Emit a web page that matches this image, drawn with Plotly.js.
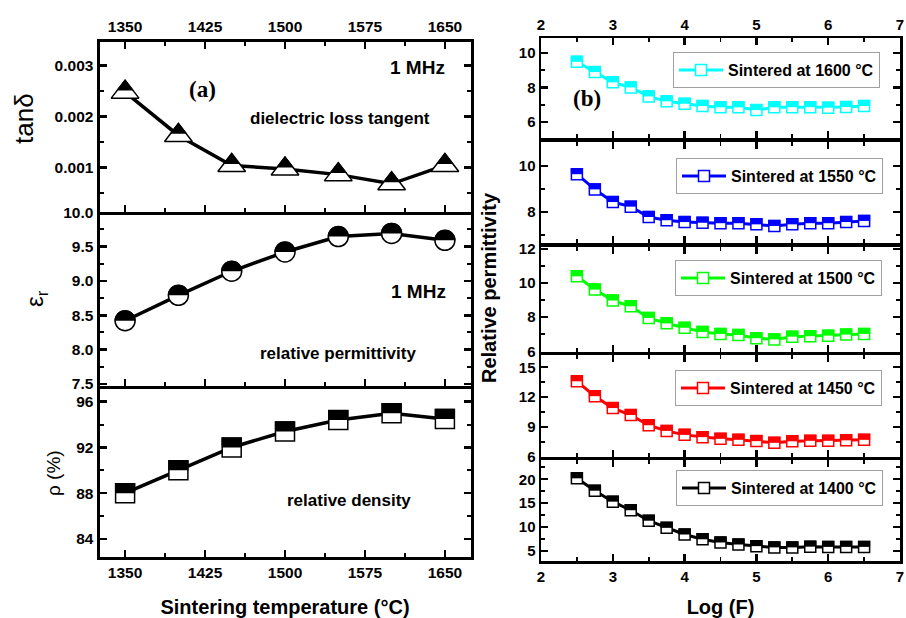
<!DOCTYPE html>
<html><head><meta charset="utf-8">
<script src="https://cdn.plot.ly/plotly-3.0.1.min.js"></script>
<style>html,body{margin:0;padding:0;background:#fff}#chart{width:906px;height:618px}</style>
</head><body><div id="chart"></div>
<script>
// ---------------- data ----------------
const sinterTemp = [1350, 1400, 1450, 1500, 1550, 1600, 1650];
const tanDelta   = [0.00248, 0.00163, 0.00104, 0.00097, 0.00086, 0.00068, 0.00104];
const epsR       = [8.42, 8.79, 9.14, 9.42, 9.645, 9.69, 9.59];
const density    = [88.0, 90.0, 92.0, 93.4, 94.4, 95.0, 94.5];

const logF    = [2.5, 2.75, 3, 3.25, 3.5, 3.75, 4, 4.25, 4.5, 4.75, 5, 5.25, 5.5, 5.75, 6, 6.25, 6.5];
const eps1600 = [9.5, 8.9, 8.3, 8.0, 7.48, 7.19, 7.05, 6.92, 6.84, 6.84, 6.68, 6.84, 6.85, 6.85, 6.82, 6.86, 6.92];
const eps1550 = [9.63, 8.97, 8.42, 8.22, 7.77, 7.63, 7.55, 7.52, 7.5, 7.5, 7.45, 7.38, 7.45, 7.5, 7.5, 7.55, 7.6];
const eps1500 = [10.4, 9.62, 8.98, 8.64, 7.96, 7.64, 7.38, 7.14, 7.02, 6.96, 6.77, 6.7, 6.86, 6.89, 6.92, 6.98, 7.02];
const eps1450 = [13.6, 12.1, 10.9, 10.2, 9.17, 8.6, 8.2, 7.97, 7.8, 7.7, 7.57, 7.4, 7.55, 7.6, 7.6, 7.65, 7.7];
const eps1400 = [20.2, 17.6, 15.3, 13.5, 11.3, 9.8, 8.4, 7.4, 6.73, 6.3, 5.96, 5.7, 5.7, 5.85, 5.8, 5.8, 5.8];

const seriesNames = ['Sintered at 1600 °C', 'Sintered at 1550 °C', 'Sintered at 1500 °C', 'Sintered at 1450 °C', 'Sintered at 1400 °C'];
const tempTickVals = [1350, 1425, 1500, 1575, 1650];
const logTickVals  = [2, 3, 4, 5, 6, 7];

// ---------------- style / layout ----------------
const W = 906, H = 618;
const fx = p => p / W;
const fy = p => 1 - p / H;
const FONT = 'Liberation Sans, Arial, Helvetica, sans-serif';
const tickFont = {family: FONT, size: 15.5, color: '#000', weight: 'bold'};
const tickFontR = {family: FONT, size: 15, color: '#000', weight: 'bold'};
const seriesColors = ['#00ffff', '#0000ff', '#00ff00', '#ff0000', '#000000'];
const seriesValues = [eps1600, eps1550, eps1500, eps1450, eps1400];

function axis(o, minor) {
  return Object.assign({
    showline: true, linecolor: '#000', linewidth: 3, mirror: 'ticks',
    ticks: 'inside', ticklen: 7, tickwidth: 2.5, tickcolor: '#000',
    minor: Object.assign({ticks: 'inside', ticklen: 4, tickwidth: 2, tickcolor: '#000'}, minor),
    showgrid: false, zeroline: false, tickfont: tickFont, fixedrange: true
  }, o);
}

const layout = {
  width: W, height: H, autosize: false,
  margin: {l: 0, r: 0, t: 0, b: 0, pad: 0},
  paper_bgcolor: '#fff', plot_bgcolor: '#fff',
  font: {family: FONT, color: '#000'},
  showlegend: true,
  annotations: [], shapes: []
};

// Left panels (shared frame lines: the upper panel's x axis draws each boundary)
const LX = [fx(99.5), fx(470.5)];
const leftX = [1326, 1674];
const tempMinor = {tickmode: 'linear', tick0: 1350, dtick: 37.5};
layout.xaxis  = axis({domain: LX, anchor: 'y',  range: leftX, tickmode: 'array', tickvals: tempTickVals, mirror: false,
  title: {text: 'Sintering temperature (°C)', font: {family: FONT, size: 20, weight: 'bold'}, standoff: 20}}, tempMinor);
layout.xaxis2 = axis({domain: LX, anchor: 'y2', range: leftX, tickmode: 'array', tickvals: tempTickVals, showticklabels: false, mirror: false}, tempMinor);
layout.xaxis3 = axis({domain: LX, anchor: 'y3', side: 'top', range: leftX, tickmode: 'array', tickvals: tempTickVals}, tempMinor);
layout.yaxis  = axis({domain: [fy(556.7), fy(385.5)], anchor: 'x',  range: [82.45, 97.42], dtick: 4, tick0: 0}, {dtick: 2, tick0: 0});
layout.yaxis2 = axis({domain: [fy(385.5), fy(212)], anchor: 'x2', range: [7.478, 10.002], dtick: 0.5, tick0: 0, tickformat: '.1f'}, {dtick: 0.25, tick0: 0});
layout.yaxis3 = axis({domain: [fy(212), fy(41.5)], anchor: 'x3', range: [0.000126, 0.003475], dtick: 0.001, tick0: 0, tickformat: '.3f'}, {dtick: 0.0005, tick0: 0});

// Right panels
const RX = [fx(541), fx(900)];
const rightRows = [[38, 138], [142, 243], [247, 352], [355, 457], [460, 561]];
const rightRanges = [[5.05, 10.89], [6.64, 11.03], [5.96, 12.12], [5.97, 16.25], [2.84, 24.05]];
const rightDticks = [2, 2, 2, 3, 5];
rightRows.forEach((row, k) => {
  const n = 4 + k;
  const xo = {domain: RX, anchor: 'y' + n, range: [2, 7], tickmode: 'array', tickvals: logTickVals, linewidth: 2.5, tickwidth: 2.2, tickfont: tickFontR};
  if (k === 0) xo.side = 'top';
  else if (k === 4) xo.title = {text: 'Log (F)', font: {family: FONT, size: 20, weight: 'bold'}, standoff: 19};
  else xo.showticklabels = false;
  layout['xaxis' + n] = axis(xo, {tickmode: 'linear', tick0: 2, dtick: 0.5, tickwidth: 1.8});
  layout['yaxis' + n] = axis({domain: [fy(row[1]), fy(row[0])], anchor: 'x' + n, range: rightRanges[k],
    dtick: rightDticks[k], tick0: 0, linewidth: 2.5, tickwidth: 2.2, tickfont: tickFontR}, {dtick: rightDticks[k] / 2, tick0: 0, tickwidth: 1.8});
});

// legends (one per right panel)
const legendBoxes = [[673, 52], [676, 158], [675, 260], [675, 370], [676, 470]];
legendBoxes.forEach((b, k) => {
  layout[k === 0 ? 'legend' : 'legend' + (k + 1)] = {
    x: fx(b[0]), y: fy(b[1]), xanchor: 'left', yanchor: 'top',
    bgcolor: '#fff', bordercolor: '#a0a0a0', borderwidth: 1,
    font: {family: FONT, size: 16, weight: 'bold', color: '#000'}, itemwidth: 44
  };
});

// ---------------- traces ----------------
const traces = [];
traces.push({x: sinterTemp, y: density, xaxis: 'x', yaxis: 'y', mode: 'lines+markers', showlegend: false,
  line: {color: '#000', width: 3.5}, marker: {symbol: 'square', size: 19, color: '#fff', line: {color: '#000', width: 1.5}}});
traces.push({x: sinterTemp, y: epsR, xaxis: 'x2', yaxis: 'y2', mode: 'lines+markers', showlegend: false,
  line: {color: '#000', width: 3.5}, marker: {symbol: 'circle', size: 20, color: '#fff', line: {color: '#000', width: 1.5}}});
traces.push({x: sinterTemp, y: tanDelta, xaxis: 'x3', yaxis: 'y3', mode: 'lines+markers', showlegend: false,
  line: {color: '#000', width: 3.5}, marker: {symbol: 'triangle-up', size: 24, color: '#fff', line: {color: '#000', width: 1.5}}});

seriesValues.forEach((vals, k) => {
  const n = 4 + k;
  traces.push({x: logF, y: vals, xaxis: 'x' + n, yaxis: 'y' + n, mode: 'lines+markers', name: seriesNames[k],
    legend: k === 0 ? 'legend' : 'legend' + (k + 1),
    line: {color: seriesColors[k], width: 3},
    marker: {symbol: 'square', size: 11, color: '#fff', line: {color: seriesColors[k], width: 1.5}}});
});

// half-up marker fills (upper half of each marker filled), anchored at each data point
function halfFill(xs, ys, xref, yref, kind, size, color) {
  const r = size / 2 + 0.6;
  xs.forEach((xv, i) => {
    const s = {xref: xref, yref: yref, xsizemode: 'pixel', ysizemode: 'pixel', xanchor: xv, yanchor: ys[i],
      fillcolor: color, line: {width: 0}, layer: 'above'};
    if (kind === 'square') {
      Object.assign(s, {type: 'rect', x0: -r, x1: r, y0: 0, y1: r});
    } else if (kind === 'circle') {
      const c = (0.5523 * r).toFixed(2);
      s.type = 'path';
      s.path = `M${-r},0 C${-r},${c} ${-c},${r} 0,${r} C${c},${r} ${r},${c} ${r},0 Z`;
    } else { // triangle-up: upper part is a similar triangle sharing the apex
      const R = size / 2, rt = R * 2 / Math.sqrt(3), f = 0.58;
      const yb = R - f * 1.5 * R, hw = f * rt + 0.7;
      s.type = 'path';
      s.path = `M${-hw},${yb} L${hw},${yb} L0,${R + 1} Z`;
    }
    layout.shapes.push(s);
  });
}
halfFill(sinterTemp, density, 'x', 'y', 'square', 19, '#000');
halfFill(sinterTemp, epsR, 'x2', 'y2', 'circle', 20, '#000');
halfFill(sinterTemp, tanDelta, 'x3', 'y3', 'triangle', 24, '#000');
seriesValues.forEach((vals, k) => halfFill(logF, vals, 'x' + (4 + k), 'y' + (4 + k), 'square', 11, seriesColors[k]));

// ---------------- annotations ----------------
function note(text, px, py, size, extra) {
  layout.annotations.push(Object.assign({text: text, xref: 'paper', yref: 'paper', x: fx(px), y: fy(py),
    xanchor: 'center', yanchor: 'middle', showarrow: false,
    font: {family: FONT, size: size, weight: 'bold', color: '#000'}}, extra || {}));
}
const serif = {family: 'Liberation Serif, Times New Roman, serif', size: 23, weight: 'bold', color: '#000'};
const plain = s => ({family: FONT, size: s, weight: 'normal', color: '#000'});
note('(a)', 202, 89, 23, {font: serif});
note('1 MHz', 417, 67, 19);
note('dielectric loss tangent', 340, 118, 17);
note('1 MHz', 418, 291, 19);
note('relative permittivity', 337.5, 353, 17);
note('relative density', 348.7, 500, 17);
note('(b)', 587, 98, 23, {font: serif});
// axis titles
note('tanδ', 24, 119, 26, {textangle: -90, font: plain(26)});
note('ε<sub>r</sub>', 36, 299, 24, {textangle: -90, font: plain(24)});
note('ρ (%)', 53, 473, 19, {textangle: -90, font: plain(19)});
note('Relative permittivity', 489, 288, 20, {textangle: -90});

Plotly.newPlot('chart', traces, layout, {staticPlot: true, displayModeBar: false});
</script>
</body></html>
